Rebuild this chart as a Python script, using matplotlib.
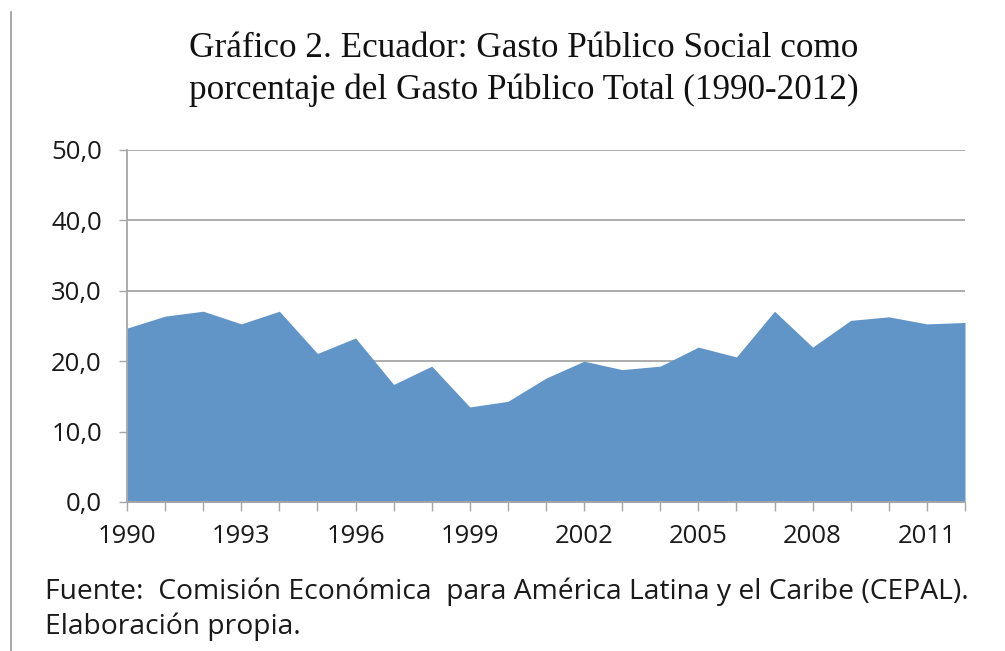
import numpy as np
import matplotlib
matplotlib.use("Agg")
import matplotlib.pyplot as plt
from matplotlib.lines import Line2D
from matplotlib.ticker import FuncFormatter, MultipleLocator

years = np.arange(1990, 2013)
gasto = [24.7, 26.4, 27.1, 25.3, 27.1, 21.1, 23.3, 16.7, 19.3, 13.5,
         14.3, 17.6, 20.0, 18.8, 19.3, 22.0, 20.6, 27.1, 22.0, 25.8,
         26.3, 25.3, 25.5]
label_years = [1990, 1993, 1996, 1999, 2002, 2005, 2008, 2011]

title_1 = "Gráfico 2. Ecuador: Gasto Público Social como"
title_2 = "porcentaje del Gasto Público Total (1990-2012)"
fuente_1 = "Fuente:  Comisión Económica  para América Latina y el Caribe (CEPAL)."
fuente_2 = "Elaboración propia."

W, H = 1005, 651
fig = plt.figure(figsize=(W / 100, H / 100), dpi=100)
ax = fig.add_axes([127 / W, 1 - 502 / H, 838 / W, 352 / H])

grid_col = "#a6a6a6"
txt_col = "#1a1a1a"
sans = "Open Sans"

ax.fill_between(years, 0, gasto, color="#6195c8", linewidth=0, zorder=2)
ax.set_xlim(1990, 2012)
ax.set_ylim(0, 50)
ax.yaxis.set_major_locator(MultipleLocator(10))
ax.yaxis.set_major_formatter(FuncFormatter(lambda v, p: f"{v:.1f}".replace(".", ",")))
ax.grid(axis="y", color=grid_col, linewidth=1.3, zorder=1)

ax.set_xticks(years, minor=True)
ax.set_xticks(label_years)
ax.tick_params(axis="x", which="both", length=6.5, width=1, color=grid_col, pad=9)
ax.tick_params(axis="y", length=6, width=1, color=grid_col, pad=12)
ax.tick_params(labelsize=18.5)
for lab in ax.get_xticklabels() + ax.get_yticklabels():
    lab.set_fontfamily(sans)
    lab.set_color(txt_col)

for s in ["top", "right"]:
    ax.spines[s].set_visible(False)
for s in ["left", "bottom"]:
    ax.spines[s].set_color(grid_col)
    ax.spines[s].set_linewidth(1.3)

cx = 523.5 / W
fig.text(cx, 1 - 57 / H, title_1, ha="center", va="baseline",
         family="Liberation Serif", fontsize=25.3, color="#111111")
fig.text(cx, 1 - 99 / H, title_2, ha="center", va="baseline",
         family="Liberation Serif", fontsize=25.3, color="#111111")

fig.text(45 / W, 1 - 599 / H, fuente_1, ha="left", va="baseline", family=sans,
         fontsize=20.3, color=txt_col)
fig.text(45 / W, 1 - 634 / H, fuente_2, ha="left", va="baseline", family=sans,
         fontsize=20.3, color=txt_col)

fig.add_artist(Line2D([10.5 / W, 10.5 / W], [0.0, 1 - 12 / H], transform=fig.transFigure,
                      color="#9a9a9a", linewidth=1.2))

fig.savefig("out.png", dpi=100)
